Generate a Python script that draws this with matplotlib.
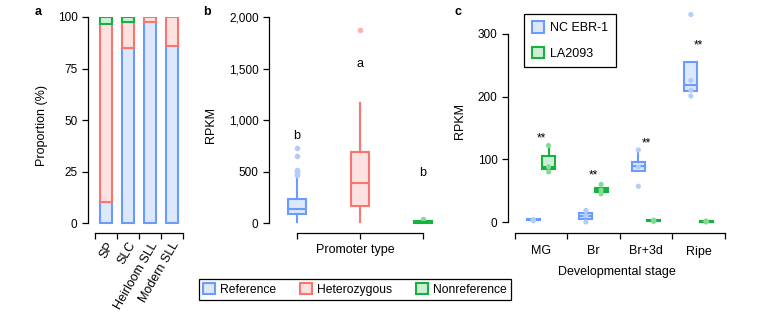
import matplotlib
matplotlib.use("Agg")
import matplotlib.pyplot as plt
from matplotlib.patches import Patch
from matplotlib.ticker import StrMethodFormatter

plt.rcParams["font.family"] = ["Liberation Sans", "DejaVu Sans"]
plt.rcParams["font.size"] = 9

# colours
blue_edge, blue_fill, blue_pt = "#6A9CFF", "#DDE8FC", "#B4CCFA"
red_edge, red_fill, red_pt = "#F8766D", "#FDE2E1", "#F9B4AF"
green_edge, green_fill, green_pt = "#16B13F", "#CDEFD5", "#85DA9A"

# panel a: proportions (%)
groups_a = ["SP", "SLC", "Heirloom SLL", "Modern SLL"]
ref_pct = [10, 85, 97.6, 85.8]
het_pct = [86.6, 12.5, 2.4, 14.2]
nonref_pct = [3.4, 2.5, 0, 0]

# panel b: promoter type box stats (RPKM)
types_b = ["Reference", "Heterozygous", "Nonreference"]
b_q1 = [85, 165, 0]
b_med = [136, 392, 8]
b_q3 = [236, 693, 18]
b_lo = [10, 10, 0]
b_hi = [455, 1164, 18]
b_fliers = [[468, 480, 492, 505, 515, 650, 725], [1877], [40]]
b_letters = ["b", "a", "b"]
b_letter_y = [845, 1543, 483]

# panel c: developmental stages
stages = ["MG", "Br", "Br+3d", "Ripe"]
nc_q1 = [2.5, 5, 82, 209]
nc_med = [3, 10, 89, 218]
nc_q3 = [4, 15, 96, 255]
nc_lo = [2, 0, 82, 209]
nc_hi = [4, 20, 115, 255]
nc_pts = [[2, 3, 4], [0, 10, 18], [57, 88, 115], [201, 210, 226, 331]]
la_q1 = [84, 48, 1, 0.5]
la_med = [88, 51, 2, 1]
la_q3 = [105, 55, 3, 1.5]
la_lo = [80, 45, 0, 0]
la_hi = [122, 60, 3, 1.5]
la_pts = [[80, 88, 122], [45, 51, 60], [1, 2, 3], [0, 1, 1.5]]
star_y = [134, 75, 126, 282]

W, H = 757, 326
fig = plt.figure(figsize=(W / 100, H / 100), dpi=100)


def px_axes(left, right, bottom, top):
    return fig.add_axes([left / W, 1 - bottom / H, (right - left) / W, (bottom - top) / H])


def style(ax):
    for s in ["top", "right"]:
        ax.spines[s].set_visible(False)
    for s in ["left", "bottom"]:
        ax.spines[s].set_linewidth(0.9)
    ax.tick_params(which="major", length=4.5, width=0.9, pad=3, labelsize=8.5)


def make_stats(q1, med, q3, lo, hi, fliers):
    return [dict(q1=a, med=m, q3=c, whislo=l, whishi=h, fliers=f)
            for a, m, c, l, h, f in zip(q1, med, q3, lo, hi, fliers)]


# ---- panel a
ax = px_axes(88, 182.7, 233, 17)
style(ax)
xa = range(len(groups_a))
bottoms = [0] * len(groups_a)
for vals, fc, ec in [(ref_pct, blue_fill, blue_edge), (het_pct, red_fill, red_edge),
                     (nonref_pct, green_fill, green_edge)]:
    for i, v in enumerate(vals):
        if v > 0:
            ax.bar(i, v, bottom=bottoms[i], width=0.55, facecolor=fc, edgecolor=ec, linewidth=1.5)
        bottoms[i] += v
ax.set_xlim(-0.805, 3.5)
ax.set_ylim(-4.85, 100)
ax.spines["left"].set_bounds(0, 100)
ax.spines["bottom"].set_bounds(-0.5, 3.5)
ax.set_yticks([0, 25, 50, 75, 100])
ax.set_xticks([i - 0.5 for i in range(5)], [""] * 5)
ax.set_xticks(list(xa), groups_a, minor=True, rotation=60, ha="right", rotation_mode="anchor",
              fontsize=9)
ax.tick_params(which="minor", length=0, pad=5)
ax.set_ylabel("Proportion (%)", labelpad=7)

# ---- panel b
ax = px_axes(269, 442, 233, 17.3)
style(ax)
stats = make_stats(b_q1, b_med, b_q3, b_lo, b_hi, b_fliers)
for i, (st, fc, ec, pc) in enumerate(zip(stats, [blue_fill, red_fill, green_fill],
                                         [blue_edge, red_edge, green_edge],
                                         [blue_pt, red_pt, green_pt])):
    ax.bxp([st], positions=[i + 1], widths=0.286, showcaps=False, patch_artist=True,
           boxprops=dict(facecolor=fc, edgecolor=ec, linewidth=1.5),
           medianprops=dict(color=ec, linewidth=1.5),
           whiskerprops=dict(color=ec, linewidth=1.5),
           flierprops=dict(marker="o", markersize=4, markerfacecolor=pc, markeredgecolor="none"))
    ax.text(i + 1, b_letter_y[i], b_letters[i], ha="center", va="center", fontsize=9)
ax.set_xlim(0.556, 3.3)
ax.set_ylim(-97, 2000)
ax.spines["left"].set_bounds(0, 2000)
ax.spines["bottom"].set_bounds(1, 3)
ax.set_yticks([0, 500, 1000, 1500, 2000])
ax.yaxis.set_major_formatter(StrMethodFormatter("{x:,.0f}"))
ax.set_xticks([1, 2, 3], ["", "", ""])
ax.set_xlabel("Promoter type", labelpad=0.5)
ax.set_ylabel("RPKM", labelpad=8.5)

# ---- panel c
ax = px_axes(508, 725, 233, 8.9)
style(ax)
nc_stats = make_stats(nc_q1, nc_med, nc_q3, nc_lo, nc_hi, [[]] * 4)
la_stats = make_stats(la_q1, la_med, la_q3, la_lo, la_hi, [[]] * 4)
for st, pts, off, fc, ec, pc in [(nc_stats, nc_pts, -0.15, blue_fill, blue_edge, blue_pt),
                                 (la_stats, la_pts, 0.14, green_fill, green_edge, green_pt)]:
    pos = [i + off for i in range(len(stages))]
    ax.bxp(st, positions=pos, widths=0.25, showcaps=False, showfliers=False, patch_artist=True,
           boxprops=dict(facecolor=fc, edgecolor=ec, linewidth=1.5),
           medianprops=dict(color=ec, linewidth=1.5),
           whiskerprops=dict(color=ec, linewidth=1.5))
    for p, vals in zip(pos, pts):
        ax.scatter([p] * len(vals), vals, s=14, color=pc, edgecolor="none", zorder=5)
for i, y in enumerate(star_y):
    ax.text(i, y, "**", ha="center", va="center", fontsize=8.5)
ax.set_xlim(-0.633, 3.5)
ax.set_ylim(-17.55, 340)
ax.spines["left"].set_bounds(0, 300)
ax.spines["bottom"].set_bounds(-0.5, 3.5)
ax.set_yticks([0, 100, 200, 300])
ax.set_xticks([i - 0.5 for i in range(5)], [""] * 5)
ax.set_xticks(range(len(stages)), stages, minor=True, fontsize=9)
ax.tick_params(which="minor", length=0, pad=9)
ax.set_xlabel("Developmental stage", labelpad=6)
ax.set_ylabel("RPKM", labelpad=8.5)
leg_c = ax.legend(handles=[Patch(facecolor=blue_fill, edgecolor=blue_edge, linewidth=1.5, label="NC EBR-1"),
                           Patch(facecolor=green_fill, edgecolor=green_edge, linewidth=1.5, label="LA2093")],
                  loc="upper left", bbox_to_anchor=(16 / 217, 1 - 5 / 224), borderaxespad=0,
                  fancybox=False, edgecolor="black", framealpha=1, handlelength=1.0, handleheight=1.0,
                  labelspacing=1.0, handletextpad=0.5, borderpad=0.6, fontsize=9)
leg_c.get_frame().set_linewidth(0.9)

# ---- shared legend
handles = [Patch(facecolor=f, edgecolor=e, linewidth=1.5, label=l)
           for f, e, l in zip([blue_fill, red_fill, green_fill], [blue_edge, red_edge, green_edge], types_b)]
leg = fig.legend(handles=handles, loc="center", bbox_to_anchor=(355 / W, 1 - 289.5 / H), ncol=3,
                 fancybox=False, edgecolor="black", framealpha=1, handlelength=1.0, handleheight=1.0,
                 handletextpad=0.4, columnspacing=2.0, borderpad=0.35, fontsize=8.7)
leg.get_frame().set_linewidth(0.9)

# panel letters
for x, lab in [(38, "a"), (207, "b"), (458, "c")]:
    fig.text(x / W, 1 - 12 / H, lab, fontsize=9, fontweight="bold", ha="center", va="center")

fig.savefig("out.png", dpi=100)
